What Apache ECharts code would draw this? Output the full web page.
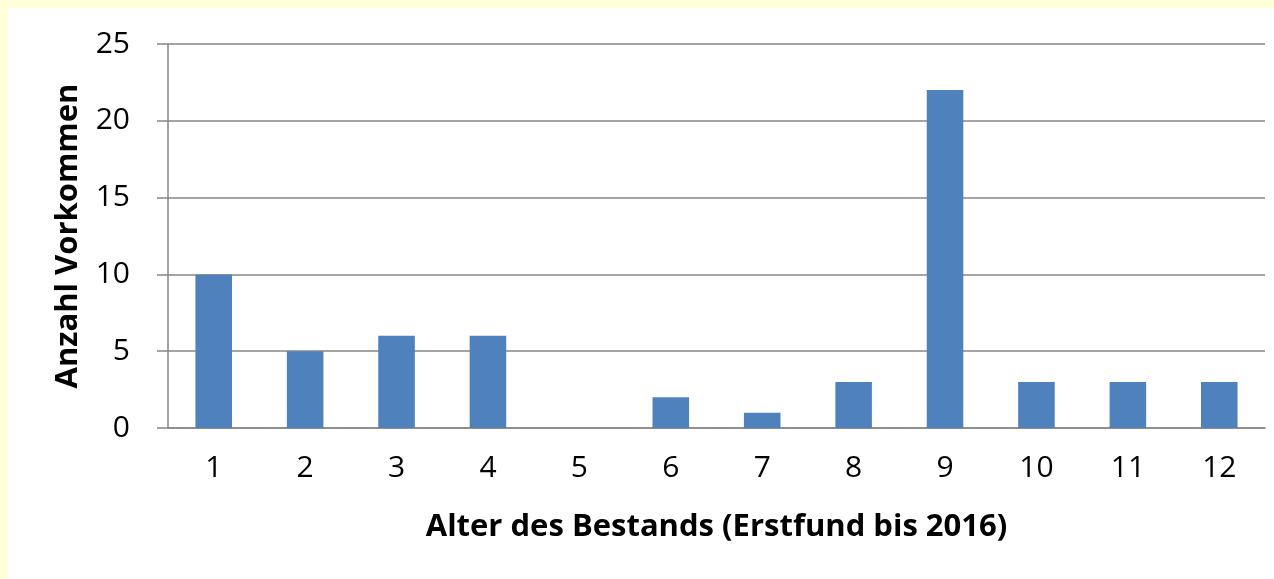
<!DOCTYPE html>
<html>
<head>
<meta charset="utf-8">
<script src="https://cdn.jsdelivr.net/npm/echarts@6/dist/echarts.min.js"></script>
<style>
    html, body { margin: 0; padding: 0; background: #ffffd9; }
    #main { position: absolute; left: 8px; top: 8px; width: 1266px; height: 571px; background: #fff; }
</style>
</head>
<body>
<div id="main"></div>
<script>
// 数据
let categories = ['1', '2', '3', '4', '5', '6', '7', '8', '9', '10', '11', '12']
let counts = [10, 5, 6, 6, 0, 2, 1, 3, 22, 3, 3, 3]

let ele = echarts.init(document.getElementById('main'))
const font = "'Open Sans', sans-serif"
const option = {
    animation: false,
    grid: { left: 160, right: 9, top: 36, bottom: 151 },
    xAxis: {
        type: 'category',
        data: categories,
        name: 'Alter des Bestands (Erstfund bis 2016)',
        nameLocation: 'middle',
        nameGap: 84,
        nameTextStyle: { fontFamily: font, fontWeight: 'bold', fontSize: 31, color: '#000' },
        axisLine: { lineStyle: { color: '#868686', width: 1.5 } },
        axisTick: { length: 11, lineStyle: { color: '#868686', width: 1.5 } },
        axisLabel: { margin: 25, fontFamily: font, fontSize: 30, color: '#000' }
    },
    yAxis: {
        type: 'value',
        min: 0,
        max: 25,
        interval: 5,
        name: 'Anzahl Vorkommen',
        nameLocation: 'middle',
        nameGap: 84,
        nameTextStyle: { fontFamily: font, fontWeight: 'bold', fontSize: 31, color: '#000' },
        axisLine: { show: true, lineStyle: { color: '#868686', width: 1.5 } },
        axisTick: { show: true, length: 11, lineStyle: { color: '#868686', width: 1.5 } },
        axisLabel: { margin: 38, fontFamily: font, fontSize: 30, color: '#000' },
        splitLine: { lineStyle: { color: '#868686', width: 1.5 } }
    },
    series: [{
        type: 'bar',
        data: counts,
        barCategoryGap: '60%',
        itemStyle: { color: '#4f81bd' }
    }]
}
ele.setOption(option)
</script>
</body>
</html>
